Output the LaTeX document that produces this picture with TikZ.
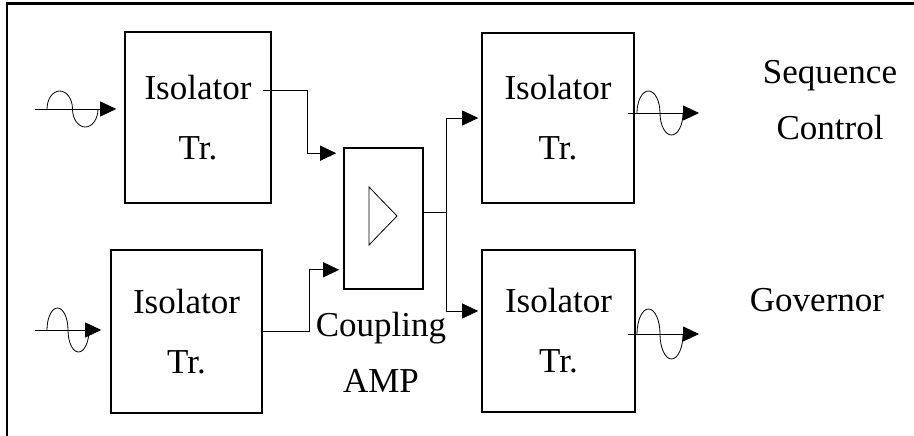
\documentclass[tikz,border=0pt]{standalone}
\usepackage{fontspec}
\setmainfont{Liberation Serif}
\usetikzlibrary{positioning,arrows.meta}
\newcommand{\sigwave}[4]{\draw[line width=0.8pt] (#1,#2) arc[start angle=180, end angle=0, x radius=#3pt, y radius=#4pt] arc[start angle=180, end angle=360, x radius=#3pt, y radius=#4pt];}

\begin{document}
\begin{tikzpicture}[x=1pt, y=-1pt,
  isobox/.style={draw, line width=1.6pt, align=center, font=\fontsize{35}{60}\selectfont},
  lbl/.style={align=center, font=\fontsize{35}{56}\selectfont},
  wire/.style={line width=0.8pt},
  arr/.style={wire, -{Triangle[length=16pt,width=15pt]}}]
\useasboundingbox (0,0) rectangle (914,436);
\draw[line width=2.5pt] (7,436) -- (7,3.5) -- (914,3.5);
\node[isobox, minimum width=146pt, minimum height=171pt] (isoA) at (198,117.5) {Isolator\\Tr.};
\node[isobox, minimum width=151pt, minimum height=163pt] (isoB) at (186.5,331.5) {Isolator\\Tr.};
\node[isobox, minimum width=152pt, minimum height=170pt] (isoC) at (558,118) {Isolator\\Tr.};
\node[isobox, minimum width=153pt, minimum height=162pt] (isoD) at (558.5,331) {Isolator\\Tr.};
\node[draw, line width=1.6pt, minimum width=79pt, minimum height=141pt] (amp) at (383.5,218.5) {};
\draw[wire] (amp.center) ++(-14.5,-31.5) -- ++(28,29) -- ++(-28,29) -- cycle;
\node[lbl] (coup) at (381,352) {Coupling\\AMP};
\node[lbl] (seq) at (830,100) {Sequence\\Control};
\node[lbl] (gov) at (817,300) {Governor};
\coordinate (inA) at (35,109);
\coordinate (inB) at (35,330);
\coordinate (outC) at (699,113);
\coordinate (outD) at (699,334);
\draw[arr] (inA) -- ([xshift=-8pt,yshift=8.5pt]isoA.west);
\sigwave{47}{109}{12.75}{18}
\draw[arr] (inB) -- ([xshift=-9pt,yshift=1.5pt]isoB.west);
\sigwave{47}{330}{10.5}{22}
\draw[arr, shorten >=7pt] ([xshift=-9pt,yshift=27.5pt]isoA.east) -| ([xshift=-36pt,yshift=-6pt]amp.north west) -- ([yshift=-6pt]amp.north west);
\draw[arr, shorten >=4pt] (isoB.east) -| ([xshift=-34pt,yshift=20pt]amp.south west) -- ([yshift=20pt]amp.south west);
\draw[wire] ([yshift=6.5pt]amp.east) -- ++(23,0) coordinate (split);
\draw[arr, shorten >=3pt] (split) |- (isoC.west);
\draw[arr, shorten >=3pt] (split) |- ([yshift=20pt]isoD.west);
\draw[arr] ([xshift=-7pt,yshift=5pt]isoC.east) -- (outC);
\sigwave{637}{113}{11.5}{22}
\draw[arr] ([xshift=-8pt,yshift=-3pt]isoD.east) -- (outD);
\sigwave{637}{334}{11.5}{25}
\end{tikzpicture}
\end{document}
